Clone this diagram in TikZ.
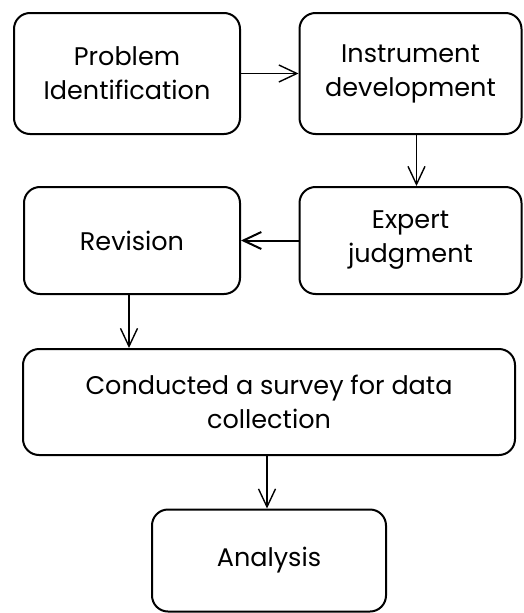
\documentclass[tikz,border=0pt]{standalone}
\usepackage{fontspec}
\setmainfont{Poppins}
\usetikzlibrary{arrows.meta}
\begin{document}
\begin{tikzpicture}[x=1pt,y=-1pt,
  box/.style={draw, line width=2pt, rounded corners=16pt, align=center, inner sep=0pt, font=\fontsize{25.5}{34}\selectfont},
  arr/.style={line width=1.4pt, -{Straight Barb[length=18pt,width=17pt]}}]
\useasboundingbox (0,0) rectangle (523,613);
\node[box, minimum width=226pt, minimum height=121pt] (pi) at (127,73.5) {Problem\\Identification};
\node[box, minimum width=222pt, minimum height=121pt] (id) at (410.5,73.5) {Instrument\\development};
\node[box, minimum width=216pt, minimum height=107pt] (rev) at (132,240.5) {Revision};
\node[box, minimum width=222pt, minimum height=107pt] (ej) at (410.5,240.5) {Expert\\judgment};
\node[box, minimum width=492pt, minimum height=106pt] (cs) at (269,402) {Conducted a survey for data\\collection};
\node[box, minimum width=234pt, minimum height=102pt] (an) at (269,560.5) {Analysis};
\draw[arr] (pi) -- (id);
\draw[arr] ([xshift=6pt]id.south) -- ([xshift=6pt]ej.north);
\draw[arr, line width=2pt] (ej) -- (rev);
\draw[arr] ([xshift=-3pt]rev.south) -- ([xshift=-3pt]rev.south |- cs.north);
\draw[arr] ([xshift=-2pt]cs.south) -- ([xshift=-2pt]an.north);
\end{tikzpicture}
\end{document}
